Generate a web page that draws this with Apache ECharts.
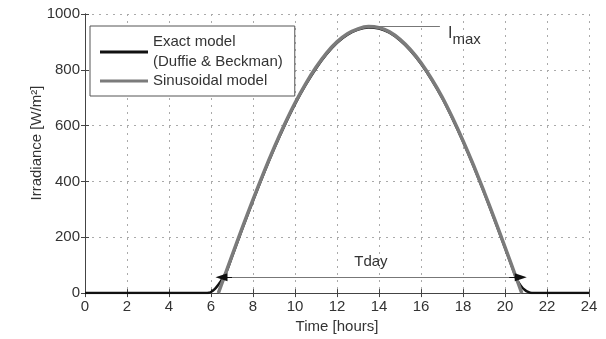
<!DOCTYPE html>
<html>
<head>
<meta charset="utf-8">
<script src="https://cdn.jsdelivr.net/npm/echarts@6/dist/echarts.min.js"></script>
<style>html,body{margin:0;padding:0;background:#fff;}#c{width:606px;height:339px;}</style>
</head>
<body>
<div id="c"></div>
<script>
// Exact model (Duffie & Beckman): [hour, W/m2]
var exactHours = [0, 5.75, 5.9, 6.0, 6.1, 6.2, 6.3, 6.4, 6.5, 6.75, 7, 7.5, 8, 8.5, 9, 9.5, 10, 10.5, 11, 11.5, 12, 12.5, 13, 13.5, 14, 14.5, 15, 15.5, 16, 16.5, 17, 17.5, 18, 18.5, 19, 19.5, 20, 20.5, 20.6, 20.7, 20.8, 20.9, 21, 21.1, 21.2, 21.35, 24];
var exactValues = [0, 0, 1, 4, 9, 16, 25, 35, 46, 79, 130, 232, 331, 426, 516, 600, 677, 745, 805, 856, 897, 926, 944, 952, 948, 933, 906, 869, 822, 765, 700, 625, 543, 455, 361, 263, 162, 60, 44, 32, 22, 14, 8, 4, 1, 0, 0];
// Sinusoidal model
var sinHours = [6.35, 6.5, 7, 7.5, 8, 8.5, 9, 9.5, 10, 10.5, 11, 11.5, 12, 12.5, 13, 13.5, 14, 14.5, 15, 15.5, 16, 16.5, 17, 17.5, 18, 18.5, 19, 19.5, 20, 20.5, 20.8];
var sinValues = [0, 31, 134, 236, 335, 430, 520, 604, 681, 749, 809, 860, 900, 929, 947, 955, 951, 936, 909, 872, 825, 768, 703, 628, 546, 458, 364, 266, 165, 62, 0];
// Annotations
var imaxLine = [[13.57, 955], [16.9, 955]];
var imaxLabelAt = [17.29, 920];
var tdayLine = [[6.43, 57], [20.8, 57]];
var tdayArrowLeft = [[7.0, 57], [6.5, 57]];
var tdayArrowRight = [[20.2, 57], [20.75, 57]];
var xTicks = {min: 0, max: 24, interval: 2};
var yTicks = {min: 0, max: 1000, interval: 200};
var seriesNames = ['Exact model\n(Duffie & Beckman)', 'Sinusoidal model'];

function zip(a, b) { return a.map(function (v, i) { return [v, b[i]]; }); }

var FONT = 'Liberation Sans, Arial, sans-serif';
var chart = echarts.init(document.getElementById('c'));
var axisLine = {show: true, lineStyle: {color: '#444', width: 1}};
var plain = function (v) { return String(v); };
function arrowPair(p) {
  return [
    {coord: p[0], symbol: 'none', lineStyle: {color: '#111', width: 1}},
    {coord: p[1], symbol: 'triangle', symbolSize: [8, 12]}
  ];
}
chart.setOption({
  animation: false,
  backgroundColor: '#fff',
  textStyle: {fontFamily: FONT},
  grid: {left: 85, right: 17, top: 14, bottom: 43},
  legend: {
    data: seriesNames,
    orient: 'vertical',
    left: 90, top: 26,
    padding: [6, 12, 5, 10],
    itemGap: -1,
    itemWidth: 48, itemHeight: 3,
    icon: 'rect',
    backgroundColor: '#fff',
    borderColor: '#555', borderWidth: 1,
    textStyle: {fontSize: 15, color: '#333', lineHeight: 20, fontFamily: FONT}
  },
  xAxis: [{
    type: 'value', min: xTicks.min, max: xTicks.max, interval: xTicks.interval,
    name: 'Time [hours]', nameLocation: 'middle', nameGap: 23,
    nameTextStyle: {fontSize: 15, color: '#333', fontFamily: FONT},
    axisLine: axisLine,
    axisTick: {show: true, inside: true, length: 4, lineStyle: {color: '#444'}},
    axisLabel: {fontSize: 15, color: '#333', margin: 6, fontFamily: FONT, formatter: plain},
    splitLine: {show: true, lineStyle: {color: '#aaa', type: [2, 5], width: 1}}
  }, {
    type: 'value', position: 'top', min: xTicks.min, max: xTicks.max, interval: xTicks.interval,
    axisLine: axisLine,
    axisTick: {show: true, inside: true, length: 4, lineStyle: {color: '#444'}},
    axisLabel: {show: false}, splitLine: {show: false}
  }],
  yAxis: [{
    type: 'value', min: yTicks.min, max: yTicks.max, interval: yTicks.interval,
    axisLine: axisLine,
    axisTick: {show: true, inside: true, length: 4, lineStyle: {color: '#444'}},
    axisLabel: {fontSize: 15, color: '#333', margin: 5, fontFamily: FONT, formatter: plain},
    splitLine: {show: true, lineStyle: {color: '#aaa', type: [2, 5], width: 1}}
  }, {
    type: 'value', position: 'right', min: yTicks.min, max: yTicks.max, interval: yTicks.interval,
    axisLine: axisLine,
    axisTick: {show: true, inside: true, length: 4, lineStyle: {color: '#444'}},
    axisLabel: {show: false}, splitLine: {show: false}
  }],
  graphic: [{
    type: 'text',
    rotation: Math.PI / 2,
    style: {text: 'Irradiance [W/m²]', font: '15px ' + FONT, fill: '#333', textAlign: 'center', textVerticalAlign: 'middle'},
    x: 37, y: 143
  }],
  series: [{
    name: seriesNames[0], type: 'line', xAxisIndex: 0, yAxisIndex: 0,
    data: zip(exactHours, exactValues),
    showSymbol: false, smooth: 0.25,
    lineStyle: {color: '#111', width: 2.5}, itemStyle: {color: '#111'},
    z: 2
  }, {
    name: seriesNames[1], type: 'line', xAxisIndex: 0, yAxisIndex: 0,
    data: zip(sinHours, sinValues),
    showSymbol: false, smooth: 0.25,
    lineStyle: {color: '#7b7b7b', width: 3.5}, itemStyle: {color: '#7b7b7b'},
    z: 3,
    markLine: {
      silent: true, symbol: ['none', 'none'],
      lineStyle: {color: '#777', width: 1.2, type: 'solid'},
      label: {show: false},
      data: [
        [{coord: imaxLine[0]}, {coord: imaxLine[1]}],
        [{coord: tdayLine[0]}, {coord: tdayLine[1], label: {show: true, position: 'middle', formatter: 'Tday', fontSize: 15, color: '#333', distance: 8, fontFamily: FONT}}],
        arrowPair(tdayArrowLeft),
        arrowPair(tdayArrowRight)
      ]
    },
    markPoint: {
      silent: true, symbol: 'circle', symbolSize: 0,
      itemStyle: {color: 'transparent'},
      data: [{
        coord: imaxLabelAt,
        label: {
          show: true, position: 'right', distance: 0,
          formatter: '{a|I}{b|max}',
          rich: {
            a: {fontSize: 16, color: '#333', verticalAlign: 'top', lineHeight: 22, fontFamily: FONT},
            b: {fontSize: 15, color: '#333', verticalAlign: 'bottom', lineHeight: 15, fontFamily: FONT}
          }
        }
      }]
    }
  }]
});
</script>
</body>
</html>
